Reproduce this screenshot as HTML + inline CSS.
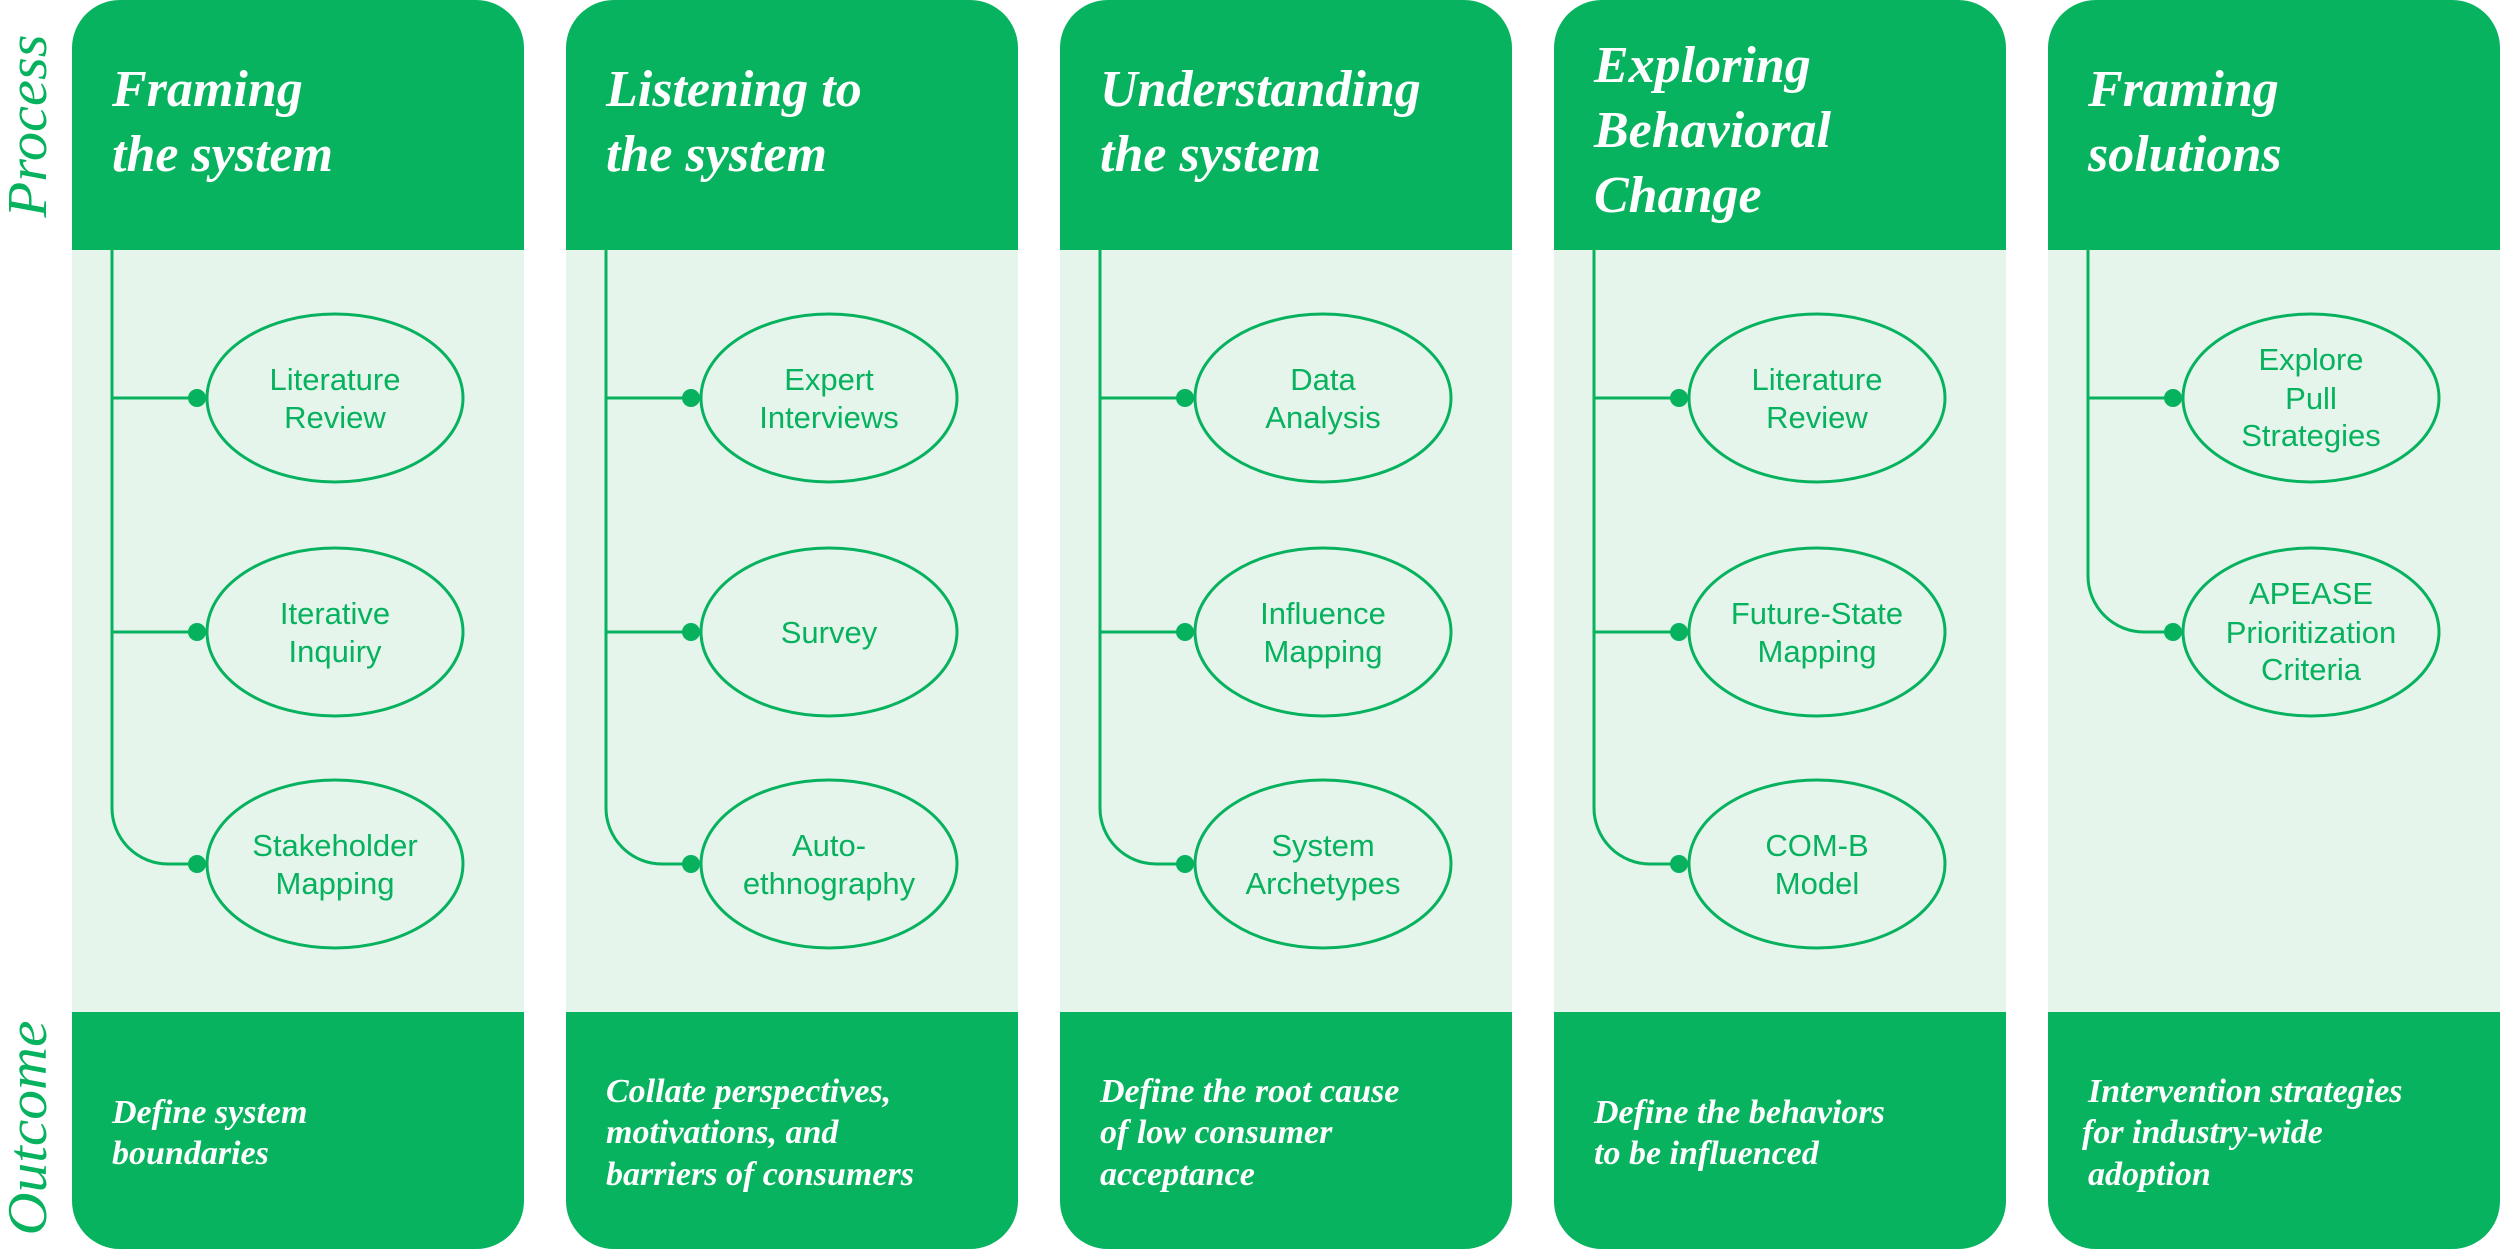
<!DOCTYPE html>
<html><head><meta charset="utf-8"><style>
html,body{margin:0;padding:0;background:#fff;}
svg{display:block;}
.h{font-family:"Liberation Serif",serif;font-weight:bold;font-style:italic;fill:#fff;font-size:52px;}
.o{font-family:"Liberation Serif",serif;font-weight:bold;font-style:italic;fill:#fff;font-size:34px;}
.e{font-family:"Liberation Sans",sans-serif;fill:#07b25e;font-size:31px;text-anchor:middle;}
.s{font-family:"Liberation Serif",serif;font-style:italic;fill:#07b25e;font-size:56px;text-anchor:middle;}
.ln{stroke:#07b25e;stroke-width:3;fill:none;}
.el{stroke:#07b25e;stroke-width:3;fill:#e6f5ec;}
</style></head><body>
<svg width="2500" height="1249" viewBox="0 0 2500 1249" xmlns="http://www.w3.org/2000/svg">
<defs>
<g id="col">
<rect x="0" y="0" width="452" height="1249" rx="48" ry="48" fill="#07b35f"/>
<rect x="0" y="250" width="452" height="762" fill="#e6f5ec"/>
</g>
</defs>
<text class="s" transform="translate(46,126) rotate(-90)" textLength="183" lengthAdjust="spacingAndGlyphs">Process</text>
<text class="s" transform="translate(46,1128) rotate(-90)" textLength="215" lengthAdjust="spacingAndGlyphs">Outcome</text>

<!-- Column 1 -->
<g transform="translate(72,0)">
<use href="#col"/>
<text class="h" x="40" y="106">Framing</text>
<text class="h" x="40" y="171">the system</text>
<path class="ln" d="M40 250 V808 A56 56 0 0 0 96 864 H125 M40 398 H125 M40 632 H125"/>
<circle cx="125" cy="398" r="9" fill="#07b25e"/><circle cx="125" cy="632" r="9" fill="#07b25e"/><circle cx="125" cy="864" r="9" fill="#07b25e"/>
<ellipse class="el" cx="263" cy="398" rx="128" ry="84"/>
<ellipse class="el" cx="263" cy="632" rx="128" ry="84"/>
<ellipse class="el" cx="263" cy="864" rx="128" ry="84"/>
<text class="e" x="263" y="390">Literature</text><text class="e" x="263" y="428">Review</text>
<text class="e" x="263" y="624">Iterative</text><text class="e" x="263" y="662">Inquiry</text>
<text class="e" x="263" y="856">Stakeholder</text><text class="e" x="263" y="894">Mapping</text>
<text class="o" x="40" y="1123">Define system</text>
<text class="o" x="40" y="1164">boundaries</text>
</g>

<!-- Column 2 -->
<g transform="translate(566,0)">
<use href="#col"/>
<text class="h" x="40" y="106">Listening to</text>
<text class="h" x="40" y="171">the system</text>
<path class="ln" d="M40 250 V808 A56 56 0 0 0 96 864 H125 M40 398 H125 M40 632 H125"/>
<circle cx="125" cy="398" r="9" fill="#07b25e"/><circle cx="125" cy="632" r="9" fill="#07b25e"/><circle cx="125" cy="864" r="9" fill="#07b25e"/>
<ellipse class="el" cx="263" cy="398" rx="128" ry="84"/>
<ellipse class="el" cx="263" cy="632" rx="128" ry="84"/>
<ellipse class="el" cx="263" cy="864" rx="128" ry="84"/>
<text class="e" x="263" y="390">Expert</text><text class="e" x="263" y="428">Interviews</text>
<text class="e" x="263" y="643">Survey</text>
<text class="e" x="263" y="856">Auto-</text><text class="e" x="263" y="894">ethnography</text>
<text class="o" x="40" y="1102">Collate perspectives,</text>
<text class="o" x="40" y="1143">motivations, and</text>
<text class="o" x="40" y="1185">barriers of consumers</text>
</g>

<!-- Column 3 -->
<g transform="translate(1060,0)">
<use href="#col"/>
<text class="h" x="40" y="106">Understanding</text>
<text class="h" x="40" y="171">the system</text>
<path class="ln" d="M40 250 V808 A56 56 0 0 0 96 864 H125 M40 398 H125 M40 632 H125"/>
<circle cx="125" cy="398" r="9" fill="#07b25e"/><circle cx="125" cy="632" r="9" fill="#07b25e"/><circle cx="125" cy="864" r="9" fill="#07b25e"/>
<ellipse class="el" cx="263" cy="398" rx="128" ry="84"/>
<ellipse class="el" cx="263" cy="632" rx="128" ry="84"/>
<ellipse class="el" cx="263" cy="864" rx="128" ry="84"/>
<text class="e" x="263" y="390">Data</text><text class="e" x="263" y="428">Analysis</text>
<text class="e" x="263" y="624">Influence</text><text class="e" x="263" y="662">Mapping</text>
<text class="e" x="263" y="856">System</text><text class="e" x="263" y="894">Archetypes</text>
<text class="o" x="40" y="1102">Define the root cause</text>
<text class="o" x="40" y="1143">of low consumer</text>
<text class="o" x="40" y="1185">acceptance</text>
</g>

<!-- Column 4 -->
<g transform="translate(1554,0)">
<use href="#col"/>
<text class="h" x="40" y="82">Exploring</text>
<text class="h" x="40" y="147">Behavioral</text>
<text class="h" x="40" y="212">Change</text>
<path class="ln" d="M40 250 V808 A56 56 0 0 0 96 864 H125 M40 398 H125 M40 632 H125"/>
<circle cx="125" cy="398" r="9" fill="#07b25e"/><circle cx="125" cy="632" r="9" fill="#07b25e"/><circle cx="125" cy="864" r="9" fill="#07b25e"/>
<ellipse class="el" cx="263" cy="398" rx="128" ry="84"/>
<ellipse class="el" cx="263" cy="632" rx="128" ry="84"/>
<ellipse class="el" cx="263" cy="864" rx="128" ry="84"/>
<text class="e" x="263" y="390">Literature</text><text class="e" x="263" y="428">Review</text>
<text class="e" x="263" y="624">Future-State</text><text class="e" x="263" y="662">Mapping</text>
<text class="e" x="263" y="856">COM-B</text><text class="e" x="263" y="894">Model</text>
<text class="o" x="40" y="1123">Define the behaviors</text>
<text class="o" x="40" y="1164">to be influenced</text>
</g>

<!-- Column 5 -->
<g transform="translate(2048,0)">
<use href="#col"/>
<text class="h" x="40" y="106">Framing</text>
<text class="h" x="40" y="171">solutions</text>
<path class="ln" d="M40 250 V576 A56 56 0 0 0 96 632 H125 M40 398 H125"/>
<circle cx="125" cy="398" r="9" fill="#07b25e"/><circle cx="125" cy="632" r="9" fill="#07b25e"/>
<ellipse class="el" cx="263" cy="398" rx="128" ry="84"/>
<ellipse class="el" cx="263" cy="632" rx="128" ry="84"/>
<text class="e" x="263" y="370">Explore</text><text class="e" x="263" y="409">Pull</text><text class="e" x="263" y="446">Strategies</text>
<text class="e" x="263" y="604">APEASE</text><text class="e" x="263" y="643">Prioritization</text><text class="e" x="263" y="680">Criteria</text>
<text class="o" x="40" y="1102">Intervention strategies</text>
<text class="o" x="34" y="1143">for industry-wide</text>
<text class="o" x="40" y="1185">adoption</text>
</g>
</svg>
</body></html>
